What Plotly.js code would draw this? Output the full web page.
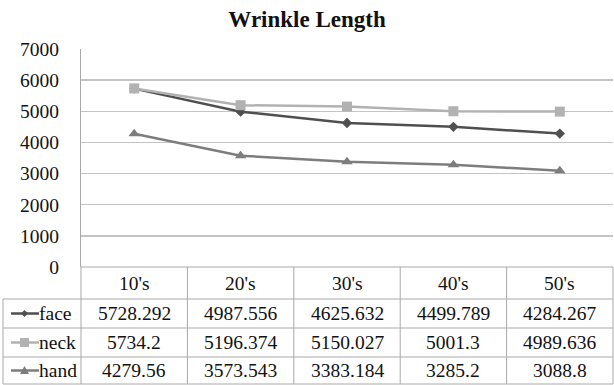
<!DOCTYPE html>
<html>
<head>
<meta charset="utf-8">
<script src="https://cdn.plot.ly/plotly-3.0.1.min.js"></script>
<style>html,body{margin:0;padding:0;background:#fff;}#chart{width:614px;height:385px;}</style>
</head>
<body>
<div id="chart"></div>
<script>
const categories = ["10's", "20's", "30's", "40's", "50's"];
const seriesNames = ["face", "neck", "hand"];
const face = [5728.292, 4987.556, 4625.632, 4499.789, 4284.267];
const neck = [5734.2, 5196.374, 5150.027, 5001.3, 4989.636];
const hand = [4279.56, 3573.543, 3383.184, 3285.2, 3088.8];
const yTicks = [0, 1000, 2000, 3000, 4000, 5000, 6000, 7000];

const W = 614, H = 385;
const L = 81, R = 613, T = 49, B = 267;
const px = x => (x - L) / (R - L);
const py = y => (B - y) / (B - T);

const seriesData = [face, neck, hand];
const colors = ['#4f4f4f', '#b2b2b2', '#7d7d7d'];
const symbols = ['diamond', 'square', 'triangle-up'];
const sizes = [8, 10, 10];

const traces = seriesData.map((vals, i) => ({
  type: 'scatter', mode: 'lines+markers', name: seriesNames[i],
  x: categories, y: vals,
  line: {color: colors[i], width: 2.5},
  marker: {symbol: symbols[i], size: sizes[i], color: colors[i]},
  cliponaxis: false
}));

const font = 'Times New Roman';
const fs = 19.5;
const gridC = '#a9a9a9';
const shapes = [];
const annotations = [];
function hline(x0, x1, y) {
  shapes.push({type: 'line', xref: 'paper', yref: 'paper', x0: px(x0), x1: px(x1), y0: py(y), y1: py(y), line: {color: gridC, width: 1}});
}
function vline(x, y0, y1) {
  shapes.push({type: 'line', xref: 'paper', yref: 'paper', x0: px(x), x1: px(x), y0: py(y0), y1: py(y1), line: {color: gridC, width: 1}});
}
const colW = (R - L) / categories.length;
const rowY = [267, 299, 328, 357, 384];
hline(L, R, 267);
for (let r = 1; r < rowY.length; r++) hline(3, R, rowY[r]);
for (let c = 0; c <= categories.length; c++) vline(L + c * colW, 267, 384);
vline(3, 299, 384);

categories.forEach(cat => annotations.push({
  xref: 'x', yref: 'paper', x: cat, y: py(283.5), text: cat, showarrow: false,
  xanchor: 'center', yanchor: 'middle', font: {family: font, size: fs, color: '#111'}
}));
const rowCenters = [313.5, 342.5, 370.5];
seriesData.forEach((vals, i) => {
  vals.forEach((v, j) => annotations.push({
    xref: 'x', yref: 'paper', x: categories[j], y: py(rowCenters[i]), text: String(v), showarrow: false,
    xanchor: 'center', yanchor: 'middle', font: {family: font, size: fs, color: '#111'}
  }));
  annotations.push({
    xref: 'paper', yref: 'paper', x: px(37), y: py(rowCenters[i]), text: seriesNames[i], showarrow: false,
    xanchor: 'left', yanchor: 'middle', font: {family: font, size: fs, color: '#111'}
  });
  shapes.push({type: 'line', xref: 'paper', yref: 'paper', x0: px(11), x1: px(39), y0: py(rowCenters[i]), y1: py(rowCenters[i]), line: {color: colors[i], width: 2.5}});
  const cx = 24.5, cy = rowCenters[i];
  let path;
  if (i === 0) path = `M${px(cx-3.5)},${py(cy)} L${px(cx)},${py(cy-3.5)} L${px(cx+3.5)},${py(cy)} L${px(cx)},${py(cy+3.5)} Z`;
  else if (i === 1) path = `M${px(cx-4.5)},${py(cy-4.5)} L${px(cx+4.5)},${py(cy-4.5)} L${px(cx+4.5)},${py(cy+4.5)} L${px(cx-4.5)},${py(cy+4.5)} Z`;
  else path = `M${px(cx-4.5)},${py(cy+3.5)} L${px(cx)},${py(cy-4.5)} L${px(cx+4.5)},${py(cy+3.5)} Z`;
  shapes.push({type: 'path', xref: 'paper', yref: 'paper', path: path, fillcolor: colors[i], line: {color: colors[i], width: 0}});
});

const layout = {
  width: W, height: H,
  margin: {l: L, r: W - R, t: T, b: H - B, pad: 0},
  paper_bgcolor: '#fff', plot_bgcolor: '#fff',
  showlegend: false,
  font: {family: font, color: '#111'},
  title: {text: '<b>Wrinkle Length</b>', x: 0.5, xanchor: 'center', y: 1 - 19 / H, yanchor: 'middle',
          font: {family: font, size: 23, color: '#111'}},
  xaxis: {type: 'category', range: [-0.5, categories.length - 0.5], showticklabels: false,
          showgrid: false, zeroline: false, showline: false, ticks: '', fixedrange: true},
  yaxis: {range: [0, 7000], tickvals: yTicks, ticktext: yTicks.map(String),
          showgrid: true, gridcolor: '#c4c4c4', gridwidth: 1.5, zeroline: false,
          showline: true, linecolor: gridC, linewidth: 1, ticks: '', ticklabelstandoff: 17,
          tickfont: {family: font, size: fs, color: '#111'}, fixedrange: true},
  shapes: shapes,
  annotations: annotations
};
Plotly.newPlot('chart', traces, layout, {staticPlot: true, displayModeBar: false});
</script>
</body>
</html>
